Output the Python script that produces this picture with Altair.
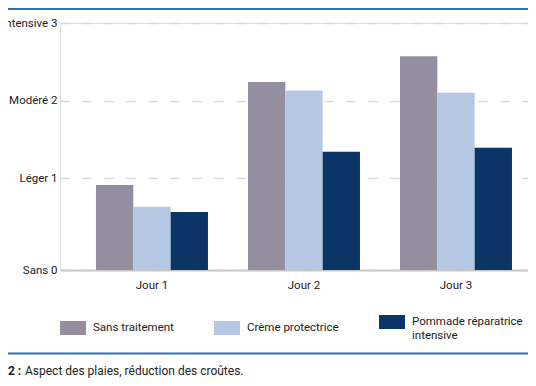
import altair as alt
import pandas as pd

# ---- data ----
days = ["Jour 1", "Jour 2", "Jour 3"]
treatments = ["Sans traitement", "Crème protectrice", "Pommade réparatrice intensive"]
sans_traitement = [0.91, 2.24, 2.57]
creme_protectrice = [0.63, 2.13, 2.10]
pommade_reparatrice = [0.56, 1.34, 1.39]

level_values = [1, 2, 3]
level_labels = ["Léger 1", "Modéré 2", "Intensive 3"]
floor_label = "Sans 0"
y_floor = -0.187
y_top = 3

colors = ["#938fa0", "#b4c8e4", "#0b3566"]
caption_num = "2 :"
caption_text = "Aspect des plaies, réduction des croûtes."

rows = []
for series_name, vals in zip(treatments, [sans_traitement, creme_protectrice, pommade_reparatrice]):
    for d, v in zip(days, vals):
        rows.append({"jour": d, "traitement": series_name, "valeur": v})
df = pd.DataFrame(rows)

FONT = "Roboto"
FS = 11.5

label_expr = "'" + floor_label + "'"
for v, lab in zip(level_values, level_labels):
    label_expr = f"abs(datum.value - {v}) < 0.01 ? '{lab}' : " + label_expr

legend_expr = ("datum.label == 'Pommade réparatrice intensive' ? "
               "['Pommade réparatrice', 'intensive'] : datum.label")

bars = alt.Chart(df).mark_bar().encode(
    x=alt.X(
        "jour:N", sort=days,
        scale=alt.Scale(paddingInner=0.2632, paddingOuter=0.171, align=0.692),
        axis=alt.Axis(title=None, labelAngle=0, ticks=False, domainColor="#c8c8c8",
                      domainWidth=2, labelPadding=9, labelFontSize=FS,
                      labelColor="#222222", labelFont=FONT, grid=False),
    ),
    xOffset=alt.XOffset("traitement:N", sort=treatments,
                        scale=alt.Scale(paddingInner=0, paddingOuter=0)),
    y=alt.Y(
        "valeur:Q",
        scale=alt.Scale(domain=[y_floor, y_top], nice=False, zero=False),
        axis=alt.Axis(values=[y_floor] + level_values, labelExpr=label_expr, title=None,
                      domain=False, ticks=False, gridDash=[9, 13], gridColor="#d9d9d9",
                      gridWidth=1.5, labelPadding=3, labelFontSize=FS,
                      labelColor="#222222", labelFont=FONT),
    ),
    y2=alt.datum(y_floor),
    color=alt.Color(
        "traitement:N", sort=treatments,
        scale=alt.Scale(domain=treatments, range=colors),
        legend=alt.Legend(
            title=None, orient="none", legendX=0, legendY=286, direction="horizontal",
            symbolType="M-1,-0.54L1,-0.54L1,0.54L-1,0.54Z", symbolSize=676,
            symbolStrokeWidth=0, labelOffset=7, columnPadding=40,
            labelFontSize=FS, labelFont=FONT, labelColor="#222222",
            labelExpr=legend_expr,
        ),
    ),
)

top_line = alt.Chart(pd.DataFrame({"a": [0]})).mark_rule(color="#2f6db5", strokeWidth=2).encode(
    x=alt.value(-60), x2=alt.value(480), y=alt.value(-14)
)
bottom_line = alt.Chart(pd.DataFrame({"a": [0]})).mark_rule(color="#2f6db5", strokeWidth=2).encode(
    x=alt.value(-60), x2=alt.value(480), y=alt.value(330.5)
)
cap_num = alt.Chart(pd.DataFrame({"t": [caption_num]})).mark_text(
    align="left", baseline="alphabetic", fontSize=12, fontWeight="bold", font=FONT, color="#222222"
).encode(x=alt.value(-52), y=alt.value(352), text="t:N")
cap_txt = alt.Chart(pd.DataFrame({"t": [caption_text]})).mark_text(
    align="left", baseline="alphabetic", fontSize=12, font=FONT, color="#222222"
).encode(x=alt.value(-35), y=alt.value(352), text="t:N")

chart = alt.layer(bars, top_line, bottom_line, cap_num, cap_txt).properties(
    width=468, height=247,
    autosize=alt.AutoSizeParams(type="none"),
    padding={"left": 52, "top": 15, "right": 0, "bottom": 108},
).configure_view(stroke=None).configure(font=FONT)

chart.save("out.html", embed_options={"renderer": "svg", "actions": False})
